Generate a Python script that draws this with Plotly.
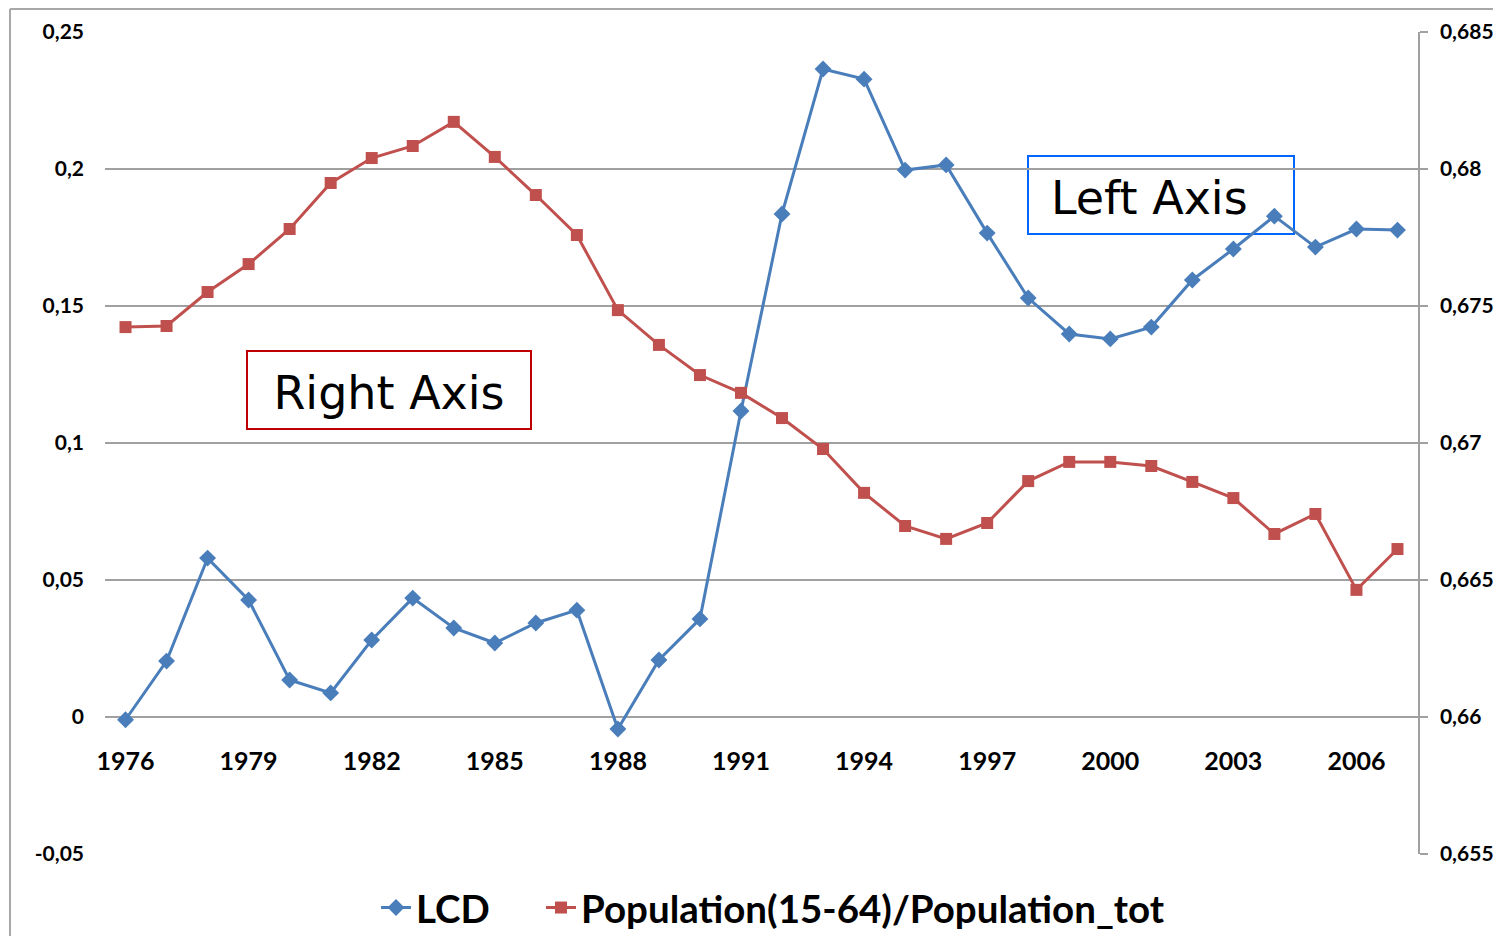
import plotly.graph_objects as go

years = list(range(1976, 2008))
lcd = [-0.001, 0.0204, 0.058, 0.0427, 0.0135, 0.0088, 0.0281, 0.0434, 0.0325, 0.027,
       0.0343, 0.039, -0.0044, 0.0208, 0.0358, 0.1117, 0.1836, 0.2365, 0.2328, 0.1996,
       0.2015, 0.1766, 0.1529, 0.1398, 0.138, 0.1423, 0.1595, 0.1708, 0.1828, 0.1715,
       0.1781, 0.1777]
pop_ratio = [0.67423, 0.67427, 0.67551, 0.67653, 0.67781, 0.67949, 0.68040, 0.68084,
             0.68172, 0.68044, 0.67905, 0.67759, 0.67485, 0.67358, 0.67248, 0.67183,
             0.67091, 0.66978, 0.66818, 0.66697, 0.66650, 0.66708, 0.66861, 0.66931,
             0.66931, 0.66916, 0.66858, 0.66799, 0.66668, 0.66741, 0.66464, 0.66613]

x_tickvals = [1976, 1979, 1982, 1985, 1988, 1991, 1994, 1997, 2000, 2003, 2006]
left_tickvals = [-0.05, 0, 0.05, 0.1, 0.15, 0.2, 0.25]
left_ticktext = ["-0,05", "0", "0,05", "0,1", "0,15", "0,2", "0,25"]
right_tickvals = [0.655, 0.66, 0.665, 0.67, 0.675, 0.68, 0.685]
right_ticktext = ["0,655", "0,66", "0,665", "0,67", "0,675", "0,68", "0,685"]

BLUE = "#4a7ebb"
RED = "#c0504d"
GRID = "#a0a0a0"
LBL = dict(family="Lato", size=21, color="black", weight="bold")
LEG = dict(family="Lato", size=38.5, color="black", weight="bold")

# plot area in page pixels: x 105..1418, y 32..854 (page has 8px body margin)
PW, PH = 1313, 822

fig = go.Figure()
fig.add_trace(go.Scatter(
    x=years, y=lcd, name="LCD", mode="lines+markers",
    line=dict(color=BLUE, width=3),
    marker=dict(symbol="diamond", size=13, color=BLUE),
    yaxis="y", cliponaxis=False, legend="legend"))
fig.add_trace(go.Scatter(
    x=years, y=pop_ratio, name="Population(15-64)/Population_tot", mode="lines+markers",
    line=dict(color=RED, width=3),
    marker=dict(symbol="square", size=12, color=RED),
    yaxis="y2", cliponaxis=False, legend="legend2"))

fig.update_layout(
    width=1485, height=928,
    margin=dict(l=97, r=75, t=24, b=82, autoexpand=False),
    paper_bgcolor="white", plot_bgcolor="white",
    showlegend=True,
    legend=dict(orientation="h", x=(376 - 105) / PW, xanchor="left", y=(854 - 908) / PH,
                yanchor="middle", font=LEG, bgcolor="rgba(0,0,0,0)"),
    legend2=dict(orientation="h", x=(541 - 105) / PW, xanchor="left", y=(854 - 908) / PH,
                 yanchor="middle", font=LEG, bgcolor="rgba(0,0,0,0)"),
    xaxis=dict(range=[1975.5, 2007.5], tickvals=x_tickvals,
               anchor="free", position=1/6, automargin=False,
               showgrid=False, zeroline=False, showline=False,
               ticks="outside", ticklen=22, tickcolor="rgba(0,0,0,0)",
               tickfont=dict(family="Lato", size=25, color="black", weight="bold")),
    yaxis=dict(range=[-0.05, 0.25], tickvals=left_tickvals, ticktext=left_ticktext,
               showgrid=True, gridcolor=GRID, gridwidth=1.5, zeroline=False, automargin=False,
               showline=False, ticks="", ticklabelstandoff=20, tickfont=LBL),
    yaxis2=dict(range=[0.655, 0.685], tickvals=right_tickvals, ticktext=right_ticktext,
                overlaying="y", side="right", showgrid=False, zeroline=False, automargin=False,
                showline=True, linecolor=GRID, linewidth=1.5,
                ticks="outside", ticklen=8, tickcolor=GRID, tickwidth=1.5,
                ticklabelstandoff=8, tickfont=LBL),
)

# chart outer border (left and top edges)
fig.add_shape(type="line", xref="paper", yref="paper", x0=(10 - 105) / PW, x1=1.07,
              y0=(854 - 9) / PH, y1=(854 - 9) / PH, line=dict(color="#a8a8a8", width=2))
fig.add_shape(type="line", xref="paper", yref="paper", x0=(10 - 105) / PW, x1=(10 - 105) / PW,
              y0=(854 - 9) / PH, y1=-0.12, line=dict(color="#a8a8a8", width=2))

# text boxes
fig.add_shape(type="rect", xref="paper", yref="paper",
              x0=(247 - 105) / PW, x1=(531 - 105) / PW,
              y0=(854 - 429) / PH, y1=(854 - 351) / PH,
              line=dict(color="#c00000", width=2), fillcolor="white", layer="between",
              label=dict(text="Right Axis", font=dict(family="DejaVu Sans", size=46, color="black")))
fig.add_shape(type="rect", xref="paper", yref="paper",
              x0=(1028 - 105) / PW, x1=(1294 - 105) / PW,
              y0=(854 - 234) / PH, y1=(854 - 156) / PH,
              line=dict(color="#0066ff", width=2), fillcolor="white", layer="between",
              label=dict(text="Left Axis", font=dict(family="DejaVu Sans", size=46, color="black"),
                         textposition="middle left", padding=20))

fig.write_html("out.html")
